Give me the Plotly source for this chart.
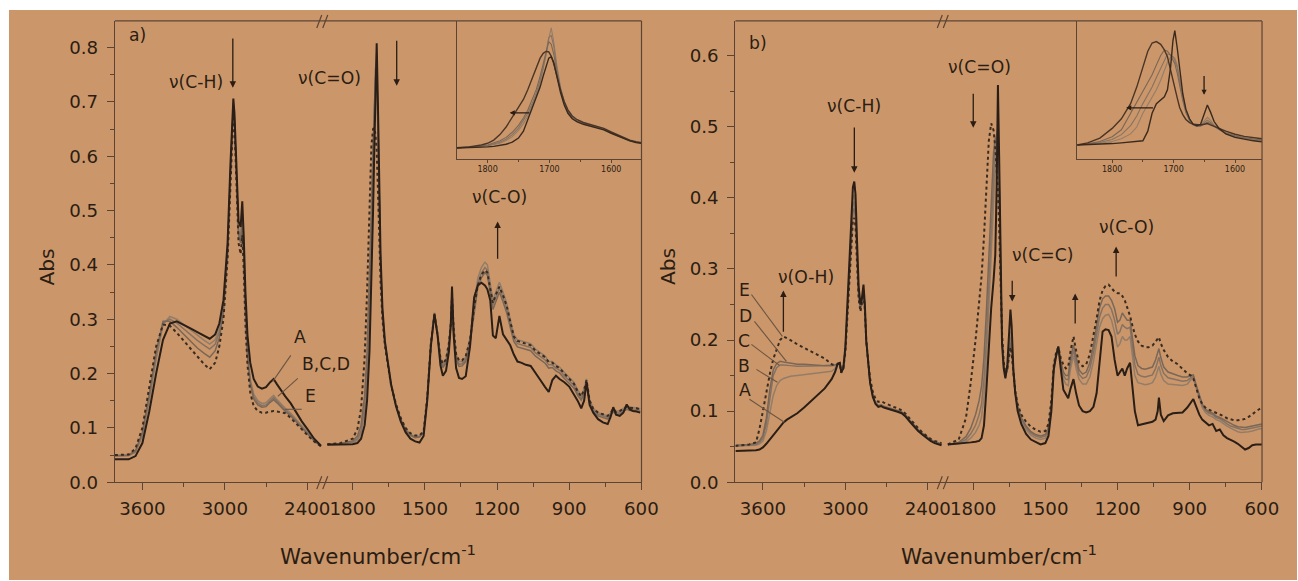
import plotly.graph_objects as go

# reference picture coordinates (all positions below are given in these)
W, H = 1298, 581
# the page is photographed from a slightly larger viewport and scaled down
FIG_W, FIG_H = 1314, 590
SX, SY = FIG_W / W, FIG_H / H

# ---------------- DATA ----------------
# Panel a, left segment (3800-2300 cm-1)
WN_AL = [3800, 3700, 3650, 3600, 3550, 3500, 3450, 3400, 3350, 3300,
         3250, 3200, 3150, 3110, 3070, 3040, 3010, 2980, 2960, 2945,
         2938, 2930, 2915, 2900, 2885, 2873, 2862, 2850, 2835, 2815,
         2790, 2760, 2730, 2700, 2670, 2645, 2620, 2590, 2560, 2520,
         2480, 2440, 2400, 2350, 2300]
A_AL = [.042, .042, .048, .072, .130, .200, .262, .292, .296, .290,
        .283, .276, .270, .264, .272, .292, .335, .440, .580, .680,
        .706, .680, .560, .480, .470, .517, .450, .350, .270, .220,
        .190, .176, .172, .175, .184, .190, .180, .168, .158, .145,
        .128, .112, .098, .080, .067]
B_AL = [.048, .049, .055, .085, .150, .225, .290, .305, .300, .290,
        .280, .270, .261, .254, .262, .282, .325, .430, .570, .670,
        .698, .672, .550, .465, .450, .495, .425, .320, .240, .190,
        .162, .150, .145, .146, .154, .160, .152, .143, .136, .127,
        .115, .104, .092, .078, .066]
C_AL = [.048, .049, .056, .088, .155, .232, .293, .300, .293, .282,
        .271, .261, .252, .245, .254, .276, .320, .425, .565, .665,
        .694, .668, .545, .460, .445, .488, .418, .315, .236, .186,
        .157, .146, .141, .142, .150, .156, .149, .140, .133, .124,
        .113, .102, .090, .077, .066]
D_AL = [.049, .050, .058, .092, .162, .240, .296, .296, .285, .272,
        .259, .247, .237, .230, .242, .266, .312, .420, .560, .660,
        .690, .664, .540, .455, .440, .482, .412, .310, .232, .182,
        .153, .142, .138, .139, .147, .152, .146, .137, .130, .122,
        .111, .100, .089, .076, .066]
E_AL = [.050, .051, .062, .100, .175, .250, .290, .288, .275, .260,
        .245, .230, .217, .208, .220, .250, .300, .410, .550, .650,
        .680, .655, .530, .440, .420, .455, .390, .290, .215, .165,
        .140, .131, .128, .128, .130, .131, .130, .129, .127, .118,
        .107, .097, .087, .075, .066]

# Panel a, right segment (1900-600 cm-1)
WN_AR = [1905, 1850, 1800, 1780, 1765, 1750, 1740, 1730, 1722, 1715,
         1710, 1705, 1700, 1695, 1690, 1684, 1676, 1666, 1655, 1640,
         1620, 1600, 1580, 1560, 1540, 1522, 1505, 1490, 1475, 1460,
         1447, 1435, 1425, 1412, 1400, 1392, 1387, 1380, 1370, 1358,
         1345, 1330, 1312, 1295, 1280, 1265, 1250, 1240, 1228, 1217,
         1205, 1190, 1175, 1160, 1145, 1130, 1115, 1100, 1080, 1060,
         1040, 1020, 1000, 985, 970, 955, 940, 920, 900, 880,
         865, 850, 838, 828, 815, 800, 780, 760, 740, 728,
         717, 705, 690, 675, 661, 648, 635, 620, 605]
A_AR = [.069, .069, .070, .072, .080, .105, .150, .240, .360, .500,
        .610, .740, .808, .700, .560, .420, .320, .260, .225, .180,
        .140, .112, .092, .080, .075, .073, .085, .150, .250, .310,
        .270, .215, .196, .205, .240, .290, .360, .270, .210, .192,
        .190, .195, .250, .340, .362, .367, .362, .355, .335, .270,
        .265, .306, .272, .262, .252, .235, .222, .220, .216, .214,
        .200, .188, .175, .166, .188, .196, .190, .184, .176, .162,
        .150, .136, .150, .184, .142, .128, .116, .110, .107, .120,
        .138, .124, .122, .128, .143, .134, .131, .130, .128]
B_AR = [.070, .070, .073, .077, .090, .130, .190, .300, .430, .580,
        .680, .760, .790, .690, .550, .410, .315, .258, .224, .180,
        .143, .116, .098, .088, .084, .085, .093, .155, .255, .312,
        .275, .230, .218, .225, .255, .295, .350, .280, .235, .222,
        .222, .230, .265, .330, .375, .395, .405, .400, .365, .335,
        .350, .368, .350, .330, .300, .272, .262, .260, .258, .255,
        .245, .238, .232, .222, .222, .216, .212, .202, .193, .184,
        .170, .160, .172, .190, .152, .136, .128, .125, .122, .128,
        .136, .130, .132, .136, .140, .138, .138, .137, .135]
C_AR = [.070, .070, .074, .080, .095, .140, .210, .330, .460, .600,
        .690, .760, .775, .680, .545, .405, .312, .256, .222, .178,
        .142, .115, .097, .087, .083, .084, .092, .153, .252, .310,
        .272, .226, .214, .222, .252, .292, .345, .276, .230, .217,
        .218, .226, .260, .322, .366, .385, .395, .390, .356, .326,
        .340, .358, .340, .320, .292, .265, .255, .253, .251, .248,
        .238, .231, .225, .216, .216, .210, .206, .196, .187, .178,
        .164, .155, .167, .186, .148, .133, .125, .122, .119, .125,
        .133, .127, .129, .133, .137, .135, .135, .134, .132]
D_AR = [.070, .071, .076, .085, .105, .160, .240, .370, .500, .620,
        .690, .745, .750, .665, .535, .400, .310, .255, .221, .177,
        .141, .114, .096, .086, .082, .083, .091, .152, .250, .308,
        .270, .223, .211, .219, .249, .289, .340, .272, .226, .213,
        .214, .222, .255, .315, .358, .376, .386, .381, .348, .318,
        .332, .350, .332, .312, .285, .259, .249, .247, .245, .242,
        .232, .225, .219, .210, .211, .205, .201, .191, .182, .173,
        .160, .151, .163, .182, .145, .130, .122, .119, .116, .122,
        .130, .124, .126, .130, .134, .132, .132, .131, .129]
E_AR = [.070, .072, .080, .098, .135, .230, .350, .510, .620, .650,
        .652, .640, .610, .540, .450, .370, .300, .252, .220, .178,
        .144, .118, .100, .090, .086, .086, .094, .155, .255, .308,
        .272, .228, .218, .226, .256, .292, .340, .282, .236, .224,
        .224, .232, .262, .322, .362, .382, .390, .386, .356, .330,
        .345, .360, .344, .325, .296, .268, .260, .258, .256, .252,
        .242, .236, .230, .221, .220, .214, .210, .200, .190, .181,
        .167, .158, .170, .188, .150, .135, .128, .125, .122, .127,
        .135, .129, .131, .135, .139, .137, .137, .136, .134]

# Panel a inset (normalised)
WN_IA = [1850, 1830, 1810, 1800, 1790, 1780, 1770, 1760, 1750, 1742,
         1735, 1728, 1721, 1715, 1710, 1705, 1701, 1697, 1693, 1688,
         1682, 1676, 1670, 1663, 1655, 1645, 1635, 1625, 1612, 1600,
         1590, 1580, 1570, 1560, 1551]
A_IA = [.078, .080, .083, .086, .090, .096, .105, .120, .150, .200,
        .280, .360, .440, .520, .600, .680, .730, .740, .700, .600,
        .480, .390, .330, .290, .268, .250, .238, .228, .210, .185,
        .165, .145, .130, .118, .112]
B_IA = [.078, .081, .087, .092, .100, .113, .132, .160, .205, .255,
        .310, .380, .460, .550, .650, .760, .870, .950, .850, .680,
        .520, .410, .345, .300, .275, .258, .245, .234, .216, .190,
        .170, .150, .134, .121, .114]
C_IA = [.078, .082, .089, .095, .105, .120, .142, .175, .222, .275,
        .330, .400, .480, .570, .660, .780, .880, .895, .820, .660,
        .510, .405, .342, .298, .273, .256, .243, .232, .214, .188,
        .168, .148, .132, .120, .113]
D_IA = [.079, .083, .092, .099, .112, .130, .155, .192, .242, .295,
        .352, .425, .505, .600, .690, .800, .850, .830, .760, .630,
        .500, .400, .340, .296, .272, .255, .242, .231, .213, .187,
        .167, .147, .131, .119, .112]
E_IA = [.080, .086, .100, .112, .135, .175, .230, .300, .370, .430,
        .500, .580, .660, .730, .765, .780, .775, .745, .690, .600,
        .500, .415, .355, .310, .283, .263, .250, .238, .220, .194,
        .173, .152, .135, .123, .116]

# Panel b, left segment
WN_BL = [3800, 3700, 3650, 3625, 3600, 3575, 3550, 3525, 3500, 3475,
         3450, 3425, 3400, 3350, 3300, 3250, 3200, 3150, 3100, 3075,
         3055, 3040, 3030, 3015, 3000, 2985, 2970, 2955, 2945, 2935,
         2926, 2915, 2903, 2890, 2880, 2868, 2858, 2848, 2835, 2820,
         2800, 2780, 2760, 2740, 2720, 2700, 2680, 2650, 2620, 2590,
         2560, 2530, 2500, 2470, 2440, 2410, 2380, 2350, 2320, 2300]
A_BL = [.044, .044, .045, .046, .049, .054, .060, .066, .072, .078,
        .084, .088, .091, .097, .105, .114, .122, .132, .145, .155,
        .167, .168, .155, .160, .190, .250, .320, .385, .415, .423,
        .405, .340, .275, .250, .258, .278, .250, .200, .170, .140,
        .120, .110, .106, .107, .105, .104, .103, .101, .099, .097,
        .092, .085, .078, .072, .067, .062, .058, .055, .053, .052]
B_BL = [.051, .051, .052, .054, .058, .072, .098, .122, .136, .143,
        .146, .148, .149, .150, .151, .152, .153, .154, .156, .160,
        .166, .167, .154, .160, .188, .245, .310, .370, .398, .405,
        .388, .328, .268, .246, .254, .272, .246, .198, .168, .140,
        .121, .111, .107, .108, .106, .105, .104, .102, .100, .098,
        .093, .086, .079, .073, .068, .063, .059, .056, .054, .053]
C_BL = [.051, .052, .053, .056, .062, .082, .118, .150, .161, .165,
        .165, .164, .164, .163, .163, .163, .163, .163, .163, .164,
        .166, .167, .154, .160, .186, .242, .305, .362, .388, .395,
        .380, .322, .265, .244, .252, .270, .244, .197, .167, .140,
        .121, .111, .107, .108, .106, .105, .104, .102, .100, .098,
        .093, .086, .079, .073, .068, .063, .059, .056, .054, .053]
D_BL = [.052, .053, .055, .058, .066, .090, .130, .158, .167, .170,
        .169, .168, .167, .166, .166, .165, .165, .164, .164, .165,
        .166, .167, .154, .160, .185, .240, .300, .355, .380, .386,
        .372, .316, .262, .243, .251, .268, .243, .197, .167, .140,
        .122, .112, .108, .109, .107, .106, .105, .103, .101, .099,
        .094, .087, .080, .074, .069, .064, .060, .057, .055, .054]
E_BL = [.051, .053, .056, .075, .100, .128, .152, .173, .188, .200,
        .205, .203, .200, .194, .189, .185, .180, .174, .166, .164,
        .166, .167, .154, .160, .183, .235, .295, .345, .368, .372,
        .360, .308, .258, .240, .250, .265, .242, .200, .172, .146,
        .127, .117, .113, .114, .112, .110, .108, .106, .104, .101,
        .096, .089, .082, .076, .070, .065, .061, .058, .056, .055]

# Panel b, right segment
WN_BR = [1905, 1860, 1830, 1810, 1790, 1775, 1765, 1755, 1745, 1735,
         1725, 1715, 1708, 1702, 1697, 1692, 1686, 1680, 1673, 1666,
         1658, 1650, 1645, 1640, 1633, 1625, 1615, 1600, 1580, 1560,
         1540, 1520, 1500, 1487, 1475, 1465, 1455, 1446, 1436, 1425,
         1415, 1405, 1395, 1383, 1372, 1360, 1345, 1330, 1315, 1300,
         1287, 1275, 1262, 1250, 1237, 1225, 1212, 1200, 1190, 1180,
         1170, 1160, 1148, 1138, 1128, 1115, 1100, 1085, 1070, 1055,
         1042, 1033, 1028, 1020, 1008, 990, 970, 950, 930, 910,
         895, 885, 875, 860, 848, 835, 820, 805, 790, 775,
         760, 745, 730, 715, 700, 685, 670, 655, 640, 625,
         610, 600]
A_BR = [.053, .054, .055, .056, .057, .058, .062, .080, .130, .190,
        .245, .285, .320, .420, .559, .460, .290, .195, .160, .146,
        .165, .215, .243, .220, .160, .125, .100, .082, .068, .060,
        .056, .053, .055, .065, .100, .158, .178, .191, .160, .130,
        .124, .118, .132, .145, .125, .108, .100, .098, .100, .106,
        .125, .165, .212, .215, .214, .205, .172, .150, .156, .160,
        .150, .160, .168, .130, .100, .080, .081, .083, .084, .085,
        .088, .100, .119, .095, .086, .094, .097, .097, .098, .105,
        .113, .117, .108, .095, .088, .084, .080, .082, .072, .074,
        .066, .062, .060, .057, .054, .050, .046, .048, .052, .053,
        .053, .053]
B_BR = [.053, .054, .057, .062, .070, .080, .092, .120, .170, .240,
        .320, .400, .450, .490, .500, .440, .290, .200, .162, .148,
        .160, .195, .212, .200, .155, .125, .103, .087, .074, .066,
        .062, .060, .062, .072, .105, .160, .178, .190, .165, .145,
        .138, .136, .160, .178, .160, .145, .138, .138, .148, .170,
        .195, .218, .230, .235, .236, .228, .210, .190, .195, .205,
        .200, .200, .205, .175, .150, .140, .138, .137, .138, .140,
        .148, .158, .163, .152, .143, .138, .137, .136, .136, .138,
        .145, .148, .135, .118, .105, .098, .094, .092, .088, .086,
        .082, .079, .076, .073, .071, .070, .070, .071, .072, .074,
        .075, .075]
C_BR = [.053, .055, .060, .068, .080, .095, .110, .145, .200, .280,
        .360, .440, .480, .490, .488, .430, .288, .202, .164, .150,
        .158, .188, .204, .195, .153, .126, .105, .089, .077, .069,
        .065, .063, .065, .075, .108, .162, .180, .190, .168, .150,
        .145, .144, .168, .186, .168, .152, .146, .148, .160, .182,
        .208, .232, .245, .250, .250, .243, .228, .208, .212, .222,
        .218, .216, .218, .190, .165, .152, .149, .148, .149, .151,
        .160, .170, .176, .164, .153, .147, .145, .143, .142, .143,
        .148, .150, .137, .120, .108, .101, .097, .095, .091, .089,
        .085, .082, .079, .077, .075, .074, .074, .075, .076, .078,
        .079, .079]
D_BR = [.053, .056, .064, .076, .095, .115, .135, .175, .240, .320,
        .400, .465, .485, .480, .470, .420, .285, .204, .166, .152,
        .157, .182, .196, .188, .152, .127, .107, .091, .079, .071,
        .067, .065, .067, .077, .110, .163, .181, .190, .170, .155,
        .150, .150, .175, .193, .175, .158, .152, .155, .168, .192,
        .220, .245, .258, .262, .262, .256, .244, .225, .228, .238,
        .233, .228, .228, .202, .178, .164, .160, .159, .160, .162,
        .172, .182, .188, .175, .162, .155, .152, .150, .148, .148,
        .150, .151, .139, .122, .110, .103, .099, .097, .093, .091,
        .088, .085, .082, .080, .078, .077, .077, .078, .079, .080,
        .081, .082]
E_BR = [.053, .060, .090, .140, .200, .250, .290, .345, .420, .480,
        .505, .495, .470, .440, .410, .360, .280, .210, .170, .152,
        .160, .180, .190, .180, .150, .128, .110, .095, .085, .078,
        .074, .071, .072, .082, .115, .165, .183, .190, .175, .165,
        .160, .162, .185, .205, .185, .168, .163, .166, .180, .205,
        .230, .255, .270, .276, .278, .273, .268, .266, .266, .262,
        .256, .246, .234, .220, .208, .198, .192, .190, .190, .192,
        .198, .202, .204, .195, .186, .176, .170, .166, .160, .153,
        .150, .146, .135, .118, .110, .105, .102, .100, .098, .096,
        .093, .090, .088, .087, .087, .088, .089, .092, .096, .100,
        .103, .105]

# Panel b inset (normalised)
WN_IB = [1857, 1840, 1820, 1800, 1785, 1770, 1760, 1750, 1742, 1735,
         1728, 1721, 1715, 1710, 1705, 1701, 1698, 1694, 1690, 1685,
         1680, 1674, 1668, 1662, 1656, 1650, 1645, 1640, 1634, 1626,
         1615, 1600, 1585, 1570, 1556]
A_IB = [.100, .102, .106, .110, .115, .120, .124, .130, .200, .330,
        .400, .430, .450, .500, .660, .860, .930, .800, .640, .470,
        .360, .290, .250, .240, .250, .330, .390, .340, .270, .220,
        .180, .155, .140, .130, .122]
B_IB = [.100, .104, .112, .125, .145, .180, .230, .330, .390, .440,
        .500, .570, .640, .700, .735, .740, .730, .680, .580, .450,
        .350, .285, .248, .235, .240, .275, .300, .280, .245, .215,
        .185, .160, .145, .135, .128]
C_IB = [.100, .106, .118, .140, .175, .240, .310, .400, .460, .520,
        .590, .660, .720, .760, .755, .740, .715, .660, .560, .440,
        .345, .282, .247, .234, .238, .262, .280, .265, .238, .212,
        .185, .162, .148, .138, .132]
D_IB = [.100, .108, .125, .160, .210, .330, .400, .490, .550, .610,
        .680, .750, .790, .780, .750, .720, .690, .620, .530, .420,
        .335, .278, .246, .236, .238, .255, .265, .255, .235, .212,
        .188, .166, .152, .142, .136]
E_IB = [.100, .115, .150, .220, .290, .400, .520, .660, .780, .840,
        .850, .830, .790, .740, .640, .560, .500, .440, .370, .320,
        .285, .262, .250, .245, .245, .250, .255, .245, .232, .220,
        .200, .178, .162, .152, .145]

SERIES = ["B", "C", "D", "E", "A"]

# ---------------- STYLE ----------------
BG = "rgb(203,151,106)"
TXT = "#2b1d13"
AX = "#5c4434"
FONT = "DejaVu Sans"
STYLE = {
    "A": dict(color="#2a1e16", width=2.0),
    "B": dict(color="#937d69", width=1.5),
    "C": dict(color="#867262", width=1.5),
    "D": dict(color="#7a6757", width=1.5),
    "E": dict(color="#3a2b20", width=2.0, dash="dot"),
}
INSET_STYLE = {
    "A": dict(color="#3a2a1e", width=1.4),
    "B": dict(color="#937d69", width=1.1),
    "C": dict(color="#867262", width=1.1),
    "D": dict(color="#7a6757", width=1.1),
    "E": dict(color="#4a3526", width=1.4),
}


def fx(x):
    return x / W


def fy(y):
    return 1 - y / H


def fs(size):
    return round(size * SX, 1)


fig = go.Figure()

segments = [
    ("x", "y", WN_AL, dict(A=A_AL, B=B_AL, C=C_AL, D=D_AL, E=E_AL), STYLE),
    ("x2", "y", WN_AR, dict(A=A_AR, B=B_AR, C=C_AR, D=D_AR, E=E_AR), STYLE),
    ("x5", "y3", WN_IA, dict(A=A_IA, B=B_IA, C=C_IA, D=D_IA, E=E_IA), INSET_STYLE),
    ("x3", "y2", WN_BL, dict(A=A_BL, B=B_BL, C=C_BL, D=D_BL, E=E_BL), STYLE),
    ("x4", "y2", WN_BR, dict(A=A_BR, B=B_BR, C=C_BR, D=D_BR, E=E_BR), STYLE),
    ("x6", "y4", WN_IB, dict(A=A_IB, B=B_IB, C=C_IB, D=D_IB, E=E_IB), INSET_STYLE),
]
for xa, ya, wn, data, sty in segments:
    for s in SERIES:
        fig.add_trace(go.Scatter(x=wn, y=data[s], mode="lines", xaxis=xa, yaxis=ya,
                                 line=sty[s], showlegend=False, hoverinfo="skip"))

tickfont = dict(family=FONT, size=fs(18), color=TXT)
base = dict(showline=True, linecolor=AX, linewidth=1.2, ticks="outside", tickcolor=AX,
            tickwidth=1.2, ticklen=7, showgrid=False, zeroline=False, tickfont=tickfont)

PA = dict(left=115, brk=324, right=642)
PB = dict(left=736, brk=945, right=1263)
TOP, BOT = 21, 483
LEFT_TICKS = [3600, 3000, 2400]
LEFT_MINOR = [3300, 2700]
RIGHT_TICKS = [1800, 1500, 1200, 900, 600]
RIGHT_MINOR = [1650, 1350, 1050, 750]
INSET_TICKS = [1800, 1700, 1600]
INSET_MINOR = [1750, 1650]


def xl(dom, anchor):
    return dict(base, domain=[fx(dom[0]), fx(dom[1])], anchor=anchor, range=[3800, 2280],
                tickmode="array", tickvals=LEFT_TICKS, ticklabelstandoff=3,
                minor=dict(tickmode="array", tickvals=LEFT_MINOR, ticks="outside", ticklen=4,
                           tickcolor=AX))


def xr(dom, anchor):
    return dict(base, domain=[fx(dom[0]), fx(dom[1])], anchor=anchor, range=[1920, 599.5],
                tickmode="array", tickvals=RIGHT_TICKS, ticklabelstandoff=3,
                minor=dict(tickmode="array", tickvals=RIGHT_MINOR, ticks="outside", ticklen=4,
                           tickcolor=AX))


def yax(anchor, top):
    return dict(base, domain=[fy(BOT), fy(TOP)], anchor=anchor, range=[0, top], dtick=0.1,
                tick0=0, tickformat=".1f", ticklabelstandoff=5,
                minor=dict(dtick=0.05, ticks="outside", ticklen=4, tickcolor=AX))


def xin(dom, anchor, rng):
    return dict(showline=True, linecolor=AX, linewidth=1.0, ticks="outside", tickcolor=AX,
                ticklen=3, tickwidth=1, showgrid=False, zeroline=False,
                tickfont=dict(family=FONT, size=8, color=TXT),
                domain=[fx(dom[0]), fx(dom[1])], anchor=anchor, range=rng,
                tickmode="array", tickvals=INSET_TICKS,
                minor=dict(tickmode="array", tickvals=INSET_MINOR, ticks="outside", ticklen=2,
                           tickcolor=AX))


def yin(anchor):
    return dict(showline=True, linecolor=AX, linewidth=1.0, ticks="", showticklabels=False,
                showgrid=False, zeroline=False, domain=[fy(159), fy(TOP)], anchor=anchor,
                range=[0, 1])


fig.update_layout(
    width=FIG_W, height=FIG_H, autosize=False,
    margin=dict(l=0, r=0, t=0, b=0, pad=0),
    paper_bgcolor="white", plot_bgcolor="rgba(0,0,0,0)",
    xaxis=xl((PA["left"], PA["brk"]), "y"),
    xaxis2=xr((PA["brk"], PA["right"]), "y"),
    yaxis=yax("x", 0.849),
    xaxis3=xl((PB["left"], PB["brk"]), "y2"),
    xaxis4=xr((PB["brk"], PB["right"]), "y2"),
    yaxis2=yax("x3", 0.649),
    xaxis5=xin((457, 642), "y3", [1850, 1551]),
    yaxis3=yin("x5"),
    xaxis6=xin((1078, 1263), "y4", [1857, 1556]),
    yaxis4=yin("x6"),
)

shapes = []
# tan page area (white margin strips at top and left as in the scan)
shapes.append(dict(type="rect", xref="paper", yref="paper", x0=fx(9), x1=1, y0=0, y1=fy(10),
                   fillcolor=BG, line=dict(width=0), layer="below"))


def seg(x0, y0, x1, y1, color=AX, width=1.2):
    shapes.append(dict(type="line", xref="paper", yref="paper", x0=fx(x0), y0=fy(y0),
                       x1=fx(x1), y1=fy(y1), line=dict(color=color, width=width)))


for P in (PA, PB):
    seg(P["left"], TOP, P["right"], TOP)
    seg(P["right"], TOP, P["right"], BOT)
    for yy in (TOP, BOT):
        b = P["brk"]
        seg(b - 7, yy + 7, b - 2, yy - 6)
        seg(b - 1, yy + 7, b + 4, yy - 6)

LEAD = "#6b5442"
for (x0, y0, x1, y1) in [(291, 356, 273, 382), (298, 379, 278, 397), (302, 410, 285, 410),
                         (752, 295, 783, 337), (755, 322, 787, 362), (752, 345, 780, 366),
                         (757, 370, 778, 383), (750, 400, 785, 423)]:
    seg(x0, y0, x1, y1, color=LEAD, width=1.1)

ann = []


def text(t, cx, cy, size=17, angle=0):
    ann.append(dict(x=fx(cx), y=fy(cy), xref="paper", yref="paper", text=t, showarrow=False,
                    xanchor="center", yanchor="middle", textangle=angle,
                    font=dict(family=FONT, size=fs(size), color=TXT)))


def arrow(hx, hy, tx, ty, size=1.0):
    ann.append(dict(x=fx(hx), y=fy(hy), xref="paper", yref="paper", text="", showarrow=True,
                    ax=(tx - hx) * SX, ay=(ty - hy) * SY, axref="pixel", ayref="pixel",
                    arrowhead=2, arrowsize=size, arrowwidth=1.3, arrowcolor=TXT, standoff=0))


for t, cx, cy in [("a)", 138, 35), ("\u03bd(C-H)", 196, 82), ("\u03bd(C=O)", 330, 78),
                  ("\u03bd(C-O)", 500, 197), ("A", 300, 338), ("B,C,D", 326, 365), ("E", 311, 397),
                  ("b)", 759, 43), ("\u03bd(C-H)", 855, 106), ("\u03bd(O-H)", 807, 277),
                  ("E", 745, 290), ("D", 746, 317), ("C", 745, 342), ("B", 745, 367),
                  ("A", 746, 391), ("\u03bd(C=O)", 980, 67), ("\u03bd(C=C)", 1043, 255),
                  ("\u03bd(C-O)", 1127, 227)]:
    text(t, cx, cy)

text("Abs", 47, 267, size=20, angle=-90)
text("Abs", 668, 267, size=20, angle=-90)
text("Wavenumber/cm<sup>-1</sup>", 378, 556, size=21)
text("Wavenumber/cm<sup>-1</sup>", 1000, 556, size=21)

for hx, hy, tx, ty, s in [(233, 88, 233, 38, 1), (397, 86, 397, 40, 1), (498, 222, 498, 260, 1),
                          (510, 113, 531, 113, 0.8), (855, 173, 855, 127, 1),
                          (784, 291, 784, 333, 1), (974, 128, 974, 93, 1),
                          (1013, 302, 1013, 280, 1), (1076, 294, 1076, 325, 1),
                          (1117, 247, 1117, 278, 1), (1127, 108, 1155, 108, 0.8),
                          (1205, 95, 1205, 75, 0.8)]:
    arrow(hx, hy, tx, ty, s)

fig.update_layout(shapes=shapes, annotations=ann)
fig.write_html(
    "out.html",
    config={"responsive": False, "displayModeBar": False},
    post_script=("document.documentElement.style.margin='0';document.body.style.margin='0';"
                 "document.documentElement.style.overflow='hidden';"
                 "document.body.style.overflow='hidden';"),
)
